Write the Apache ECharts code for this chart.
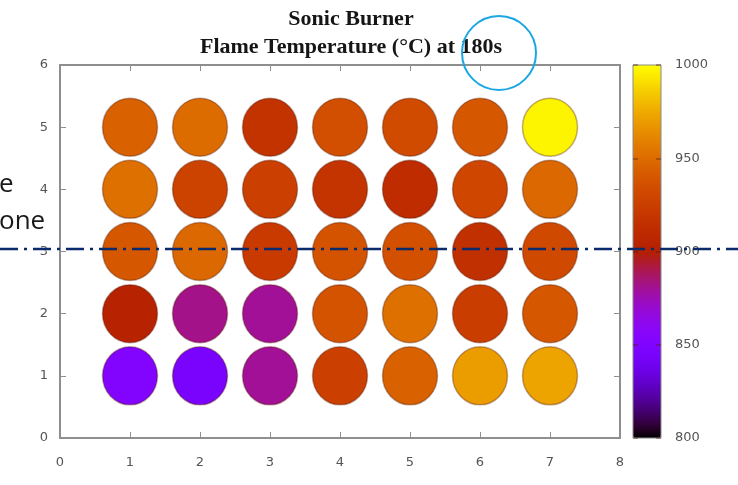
<!DOCTYPE html>
<html>
<head>
<meta charset="utf-8">
<title>Sonic Burner – Flame Temperature</title>
<script src="https://cdn.jsdelivr.net/npm/echarts@6/dist/echarts.min.js"></script>
<style>
  html, body { margin: 0; padding: 0; background: #ffffff; }
  #chart { width: 738px; height: 485px; }
</style>
</head>
<body>
<div id="chart"></div>
<script>
// Burner nozzle grid: column positions (x) and row positions (y)
const columns = [1, 2, 3, 4, 5, 6, 7];
const rows = [1, 2, 3, 4, 5];

// Flame temperature (°C) at 180 s, one array per row, columns 1..7
const tempRow1 = [852, 845, 880, 926, 945, 970, 972];
const tempRow2 = [903, 882, 880, 938, 952, 924, 940];
const tempRow3 = [940, 948, 922, 938, 936, 915, 932];
const tempRow4 = [952, 928, 926, 918, 912, 930, 948];
const tempRow5 = [945, 950, 917, 935, 933, 940, 997];
const tempRows = [tempRow1, tempRow2, tempRow3, tempRow4, tempRow5];

// Colour scale limits and tick labels
const scaleMin = 800;
const scaleMax = 1000;
const scaleTicks = [800, 850, 900, 950, 1000];

// Axis ranges
const xRange = [0, 8];
const yRange = [0, 6];

// gnuplot default palette (rgbformulae 7,5,15): r = sqrt(t), g = t^3, b = sin(2*pi*t)
function paletteStops(n) {
  const out = [];
  for (let i = 0; i <= n; i++) {
    const t = i / n;
    const r = Math.sqrt(t);
    const g = t * t * t;
    const b = Math.max(0, Math.sin(2 * Math.PI * t));
    const hex = v => Math.round(Math.min(1, Math.max(0, v)) * 255).toString(16).padStart(2, '0');
    out.push('#' + hex(r) + hex(g) + hex(b));
  }
  return out;
}

const points = [];
rows.forEach((y, ri) => {
  columns.forEach((x, ci) => {
    points.push([x, y, tempRows[ri][ci]]);
  });
});

const axisGrey = '#8e8e8e';
const labelGrey = '#555555';
const tickFont = { color: labelGrey, fontSize: 13, fontFamily: 'DejaVu Sans' };

function frameAxis(extra) {
  return Object.assign({
    type: 'value',
    splitLine: { show: false },
    axisLine: { show: true, onZero: false, lineStyle: { color: axisGrey, width: 2 } },
    axisTick: { show: true, inside: true, length: 6, lineStyle: { color: axisGrey, width: 1 } }
  }, extra);
}

// Colour box axis: ticks drawn over the gradient on both edges
function colorboxAxis(position, showLabels) {
  return {
    type: 'value', gridIndex: 1, position: position, z: 8,
    min: scaleMin, max: scaleMax, interval: 50,
    splitLine: { show: false },
    axisLine: { show: false, onZero: false },
    axisTick: { show: true, inside: true, length: 5,
      lineStyle: { color: 'rgba(80,30,20,0.5)', width: 1.5 } },
    axisLabel: showLabels
      ? Object.assign({ margin: 14 }, tickFont, {
          formatter: v => scaleTicks.indexOf(v) >= 0 ? String(v) : ''
        })
      : { show: false }
  };
}

const chart = echarts.init(document.getElementById('chart'), null, { renderer: 'canvas' });

chart.setOption({
  backgroundColor: '#ffffff',
  animation: false,
  title: {
    text: 'Sonic Burner\nFlame Temperature (°C) at 180s',
    left: 346,
    textAlign: 'center',
    top: 0,
    textStyle: {
      fontFamily: 'Liberation Serif',
      fontWeight: 'bold',
      fontSize: 22,
      lineHeight: 28,
      color: '#151515'
    }
  },
  grid: [
    { left: 60, right: 118, top: 65, bottom: 47, containLabel: false },
    { left: 633, width: 28, top: 65, height: 373, show: true, z: 6,
      borderColor: '#8a8a8a', borderWidth: 1, backgroundColor: 'transparent' }
  ],
  xAxis: [
    frameAxis({ gridIndex: 0, position: 'bottom', min: xRange[0], max: xRange[1], interval: 1,
      axisLabel: Object.assign({ margin: 18 }, tickFont) }),
    frameAxis({ gridIndex: 0, position: 'top', min: xRange[0], max: xRange[1], interval: 1,
      axisLabel: { show: false } }),
    { type: 'value', gridIndex: 1, min: 0, max: 1, show: false }
  ],
  yAxis: [
    frameAxis({ gridIndex: 0, position: 'left', min: yRange[0], max: yRange[1], interval: 1,
      axisLabel: Object.assign({ margin: 12 }, tickFont) }),
    frameAxis({ gridIndex: 0, position: 'right', min: yRange[0], max: yRange[1], interval: 1,
      axisLabel: { show: false } }),
    colorboxAxis('right', true),
    colorboxAxis('left', false)
  ],
  visualMap: {
    type: 'continuous',
    seriesIndex: 0,
    dimension: 2,
    min: scaleMin,
    max: scaleMax,
    calculable: false,
    hoverLink: false,
    text: ['', ''],
    showLabel: false,
    left: 633,
    top: 65,
    padding: 0,
    itemWidth: 28,
    itemHeight: 373,
    inRange: { color: paletteStops(40) }
  },
  series: [
    {
      type: 'scatter',
      xAxisIndex: 0,
      yAxisIndex: 0,
      symbol: 'circle',
      symbolSize: [55, 58],
      data: points,
      itemStyle: {
        opacity: 1,
        borderColor: 'rgba(80,20,0,0.35)',
        borderWidth: 1.5
      },
      emphasis: { disabled: true }
    }
  ],
  graphic: [
    {
      type: 'text', left: -1, top: 172, z: 20,
      style: { text: 'e', fontFamily: 'Open Sans', fontSize: 26, fill: '#1a1a1a' }
    },
    {
      type: 'text', left: -1, top: 209, z: 20,
      style: { text: 'one', fontFamily: 'Open Sans', fontSize: 26, fill: '#1a1a1a' }
    },
    {
      type: 'line', z: 20,
      shape: { x1: 0, y1: 249, x2: 738, y2: 249 },
      style: { stroke: '#0b2a6b', lineWidth: 2.5, lineDash: [18, 6, 3, 6] }
    },
    {
      type: 'circle', z: 20,
      shape: { cx: 499, cy: 53, r: 37 },
      style: { fill: 'none', stroke: '#1aa7e2', lineWidth: 2 }
    }
  ]
});
</script>
</body>
</html>
